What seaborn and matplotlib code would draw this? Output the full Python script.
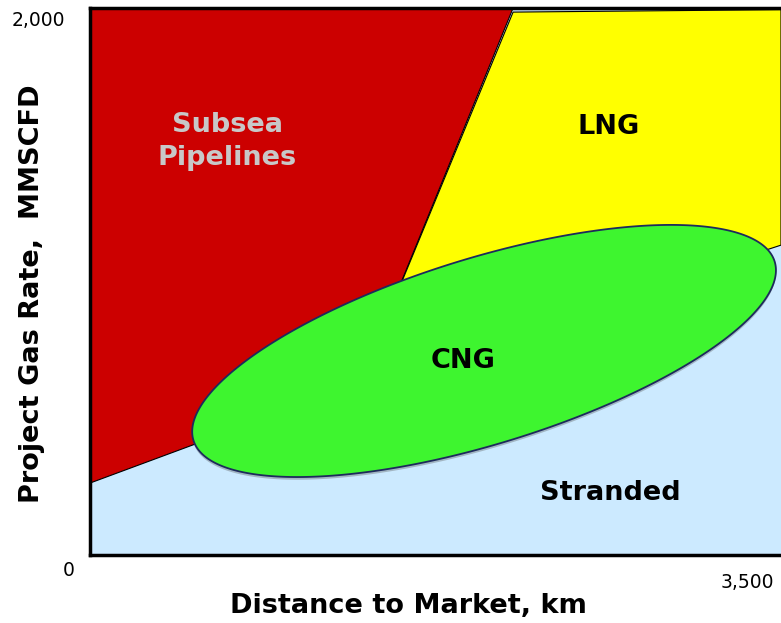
import numpy as np
import matplotlib
matplotlib.use("Agg")
import matplotlib.pyplot as plt
import seaborn as sns

# -----------------------------
# Region data (distance km, gas rate MMSCFD)
# -----------------------------
x_max = 3500
y_max = 2000
x_ticks = [3500]
x_tick_labels = ["3,500"]
y_ticks = [0, 2000]
y_tick_labels = ["0", "2,000"]

pipeline_x = [0, 0, 2143, 1368]
pipeline_y = [263, 2000, 2000, 629]

lng_x = [2143, 3500, 3500, 1368]
lng_y = [1985, 1994, 1133, 629]

# CNG ellipse: centre, semi-axes (km-equivalent on screen), tilt in degrees
cng_center = (1996, 746)
cng_axes = (1540, 471)
cng_tilt = 17.1

labels = ["Subsea\nPipelines", "LNG", "CNG", "Stranded"]
label_x = [694, 2625, 1889, 2635]
label_y = [1512, 1564, 711, 228]
label_colors = ["#c8c8c8", "black", "black", "black"]


def ellipse_xy(ax, center, semi, tilt, npts=400):
    # keep the ellipse shape on screen even though the axes scales differ
    bbox = ax.get_window_extent()
    x0, x1 = ax.get_xlim()
    y0, y1 = ax.get_ylim()
    k = ((y1 - y0) / bbox.height) / ((x1 - x0) / bbox.width)
    t = np.linspace(0, 2 * np.pi, npts)
    th = np.deg2rad(tilt)
    u = semi[0] * np.cos(t)
    v = semi[1] * np.sin(t)
    dx = u * np.cos(th) - v * np.sin(th)
    dy = (u * np.sin(th) + v * np.cos(th)) * k
    return center[0] + dx, center[1] + dy


sns.set_style("white")
plt.rcParams["font.family"] = ["DejaVu Sans"]
plt.rcParams["text.color"] = "black"
plt.rcParams["axes.labelcolor"] = "black"

fig = plt.figure(figsize=(7.81, 6.23), dpi=100)
ax = fig.add_axes([90 / 781, 68 / 623, 691 / 781, 547 / 623])
ax.set_xlim(0, x_max)
ax.set_ylim(0, y_max)
ax.set_facecolor("#cceaff")

ax.fill(pipeline_x, pipeline_y, color="#cc0000", ec="black", lw=0.8, zorder=2)
ax.fill(lng_x, lng_y, color="#ffff00", ec="black", lw=0.8, zorder=2)

ex, ey = ellipse_xy(ax, cng_center, cng_axes, cng_tilt)
shift = 10
ax.fill(ex, ey - shift, color="#555555", alpha=0.35, lw=0, zorder=3)
ax.fill(ex, ey, color="#3ef52f", ec="#1d2a5c", lw=1.3, zorder=4)

for txt, lx, ly, c in zip(labels, label_x, label_y, label_colors):
    ax.text(lx, ly, txt, ha="center", va="center", color=c,
            fontsize=19.5, fontweight="bold", linespacing=1.35, zorder=5)

# spines
sns.despine(ax=ax, right=True, top=False)
for side in ["left", "bottom", "top"]:
    ax.spines[side].set_linewidth(2.5)
    ax.spines[side].set_color("black")
    ax.spines[side].set_zorder(6)

ax.set_xticks([])
ax.set_yticks([])

# tick labels placed like the original slide
ax.annotate(y_tick_labels[1], xy=(0, y_ticks[1]), xytext=(-18, -9),
            textcoords="offset points", ha="right", va="center", fontsize=13.5)
ax.annotate(y_tick_labels[0], xy=(0, y_ticks[0]), xytext=(-11, -11),
            textcoords="offset points", ha="right", va="center", fontsize=13.5)
ax.annotate(x_tick_labels[0], xy=(x_ticks[0], 0), xytext=(-5, -20),
            textcoords="offset points", ha="right", va="center", fontsize=13.5)

ax.set_xlabel("Distance to Market, km", fontsize=19.5, fontweight="bold")
ax.set_ylabel("Project Gas Rate,  MMSCFD", fontsize=19.5, fontweight="bold")
ax.xaxis.set_label_coords(318 / 691, -51 / 547)
ax.yaxis.set_label_coords(-58 / 691, 261 / 547)
ax.xaxis.label.set_va("center")
ax.yaxis.label.set_va("center")

fig.savefig("out.png", dpi=100)
